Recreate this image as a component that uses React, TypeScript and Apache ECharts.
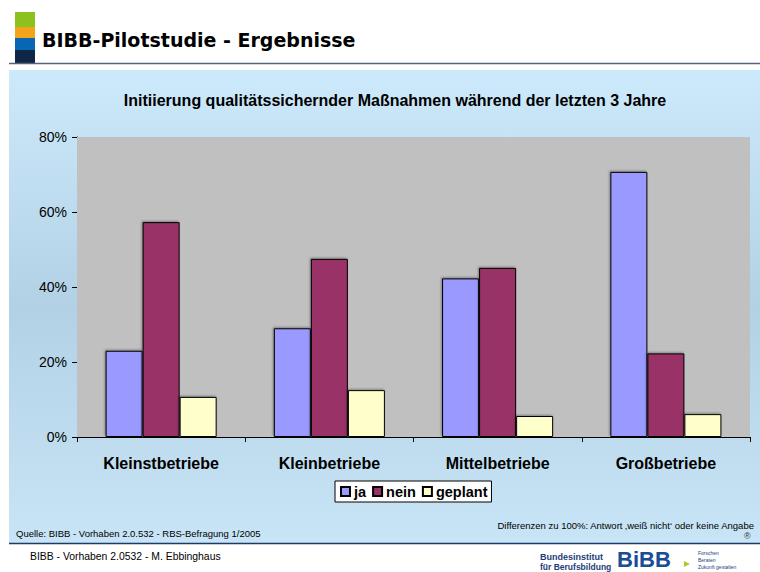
import React, { useEffect, useRef } from "react";
import * as echarts from "echarts";

const categories = ["Kleinstbetriebe", "Kleinbetriebe", "Mittelbetriebe", "Großbetriebe"];
const jaValues = [23, 29, 42.3, 70.7];
const neinValues = [57.3, 47.5, 45.1, 22.3];
const geplantValues = [10.7, 12.5, 5.6, 6.1];
const seriesNames = ["ja", "nein", "geplant"];
const seriesColors = ["#9999ff", "#993366", "#ffffcc"];
const yTicks = { min: 0, max: 80, interval: 20 };

const FONT = "'Liberation Sans', Arial, sans-serif";

export default function App() {
  const ref = useRef<HTMLDivElement>(null);
  useEffect(() => {
    if (!ref.current) return;
    const chart = echarts.init(ref.current, undefined, { renderer: "svg" });
    const dataSets = [jaValues, neinValues, geplantValues];
    chart.setOption({
      animation: false,
      backgroundColor: "#ffffff",
      textStyle: { fontFamily: FONT },
      title: {
        text: "Initiierung qualitätssichernder Maßnahmen während der letzten 3 Jahre",
        left: 390,
        textAlign: "center",
        top: 87,
        textStyle: { fontFamily: FONT, fontSize: 16, fontWeight: "bold", color: "#000" },
      },
      legend: {
        data: seriesNames,
        left: 335,
        top: 481,
        icon: "rect",
        itemWidth: 9,
        itemHeight: 9,
        itemGap: 6,
        padding: [3, 4, 3, 5],
        backgroundColor: "#ffffff",
        borderColor: "#000000",
        borderWidth: 1,
        borderRadius: 0,
        textStyle: { fontFamily: FONT, fontSize: 14.5, fontWeight: "bold", color: "#000", padding: [0, 0, 0, -1] },
      },
      grid: {
        left: 77,
        right: 10,
        top: 137,
        bottom: 135,
        show: true,
        backgroundColor: "#c0c0c0",
        borderWidth: 0,
        z: 1,
      },
      xAxis: {
        type: "category",
        data: categories,
        axisLine: { lineStyle: { color: "#000", width: 1 } },
        axisTick: { show: true, length: 5, lineStyle: { color: "#000" } },
        axisLabel: { fontFamily: FONT, fontSize: 16, fontWeight: "bold", color: "#000", margin: 18 },
      },
      yAxis: {
        type: "value",
        min: yTicks.min,
        max: yTicks.max,
        interval: yTicks.interval,
        axisLine: { show: true, lineStyle: { color: "#000", width: 1 } },
        axisTick: { show: true, length: 5, lineStyle: { color: "#000" } },
        axisLabel: { fontFamily: FONT, fontSize: 14, color: "#000", margin: 10, formatter: "{value}%" },
        splitLine: { show: true, lineStyle: { color: "#000", width: 1 } },
      },
      series: seriesNames.map((name, i) => ({
        name,
        type: "bar",
        data: dataSets[i],
        barGap: "0%",
        barCategoryGap: "34%",
        itemStyle: {
          color: seriesColors[i],
          borderColor: "#000",
          borderWidth: 1,
          shadowColor: "rgba(0,0,0,0.35)",
          shadowBlur: 2,
          shadowOffsetX: -1,
          shadowOffsetY: -1,
        },
      })),
      graphic: [
        {
          type: "rect",
          z: -10,
          silent: true,
          shape: { x: 9, y: 70, width: 751, height: 473 },
          style: {
            fill: new echarts.graphic.LinearGradient(0, 0, 0, 1, [
              { offset: 0, color: "#cdeafc" },
              { offset: 0.5, color: "#b3d1e5" },
              { offset: 1, color: "#c8e5f7" },
            ]),
          },
        },
        { type: "rect", z: -5, shape: { x: 15, y: 12, width: 20, height: 15 }, style: { fill: "#8cc21e" } },
        { type: "rect", z: -5, shape: { x: 15, y: 27, width: 20, height: 11 }, style: { fill: "#f4a41a" } },
        { type: "rect", z: -5, shape: { x: 15, y: 38, width: 20, height: 12 }, style: { fill: "#0867b2" } },
        { type: "rect", z: -5, shape: { x: 15, y: 50, width: 20, height: 13 }, style: { fill: "#0f2747" } },
        {
          type: "line",
          z: -5,
          shape: { x1: 9, y1: 63.5, x2: 760, y2: 63.5 },
          style: { stroke: "#56627e", lineWidth: 1.5 },
        },
        {
          type: "text",
          left: 42,
          top: 30,
          style: {
            text: "BIBB-Pilotstudie - Ergebnisse",
            font: "bold 19px 'DejaVu Sans', Verdana, sans-serif",
            fill: "#000",
          },
        },
        {
          type: "text",
          left: 16,
          top: 528,
          style: { text: "Quelle: BIBB - Vorhaben 2.0.532 - RBS-Befragung 1/2005", font: "9.5px " + FONT, fill: "#000" },
        },
        {
          type: "text",
          right: 5,
          top: 520,
          style: {
            text: "Differenzen zu 100%: Antwort ‚weiß nicht‘ oder keine Angabe",
            font: "9.5px " + FONT,
            fill: "#000",
          },
        },
        {
          type: "line",
          z: -5,
          shape: { x1: 9, y1: 543.5, x2: 760, y2: 543.5 },
          style: { stroke: "#1f3a66", lineWidth: 1.5 },
        },
        {
          type: "text",
          left: 30,
          top: 551,
          style: { text: "BIBB - Vorhaben 2.0532 - M. Ebbinghaus", font: "10.4px " + FONT, fill: "#000" },
        },
        {
          type: "text",
          left: 540,
          top: 552,
          style: { text: "Bundesinstitut", font: "bold 9px " + FONT, fill: "#1d3d7a" },
        },
        {
          type: "text",
          left: 540,
          top: 562,
          style: { text: "für Berufsbildung", font: "bold 8.5px " + FONT, fill: "#1d3d7a" },
        },
        {
          type: "text",
          left: 617,
          top: 548,
          style: {
            text: "BiBB",
            font: "900 22px " + FONT,
            fill: "#1a4d96",
          },
        },
        {
          type: "polygon",
          shape: { points: [[684, 561], [690, 564], [684, 567]] },
          style: { fill: "#b5c72a" },
        },
        {
          type: "text",
          left: 698,
          top: 549,
          style: { text: "Forschen\nBeraten\nZukunft gestalten", font: "5px " + FONT, fill: "#1d3d7a", lineHeight: 7 },
        },
        {
          type: "text",
          left: 744,
          top: 531,
          style: { text: "®", font: "9px " + FONT, fill: "#333" },
        },
      ],
    });
    return () => chart.dispose();
  }, []);
  return (
    <div
      ref={ref}
      style={{ position: "absolute", left: 0, top: 0, width: 760, height: 572 }}
    />
  );
}
